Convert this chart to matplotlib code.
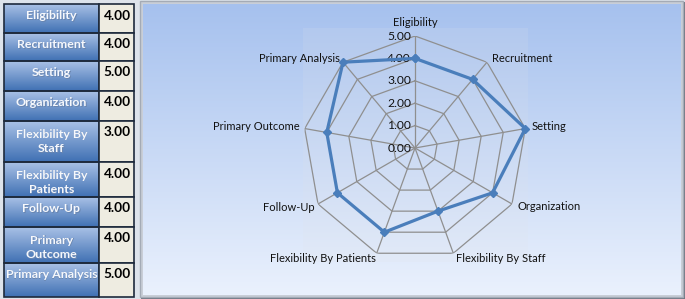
import numpy as np
import matplotlib
matplotlib.use('Agg')
import matplotlib.pyplot as plt
from matplotlib.patches import Rectangle
from matplotlib.colors import LinearSegmentedColormap

# ---------------- data ----------------
categories = ["Eligibility", "Recruitment", "Setting", "Organization",
              "Flexibility By Staff", "Flexibility By Patients", "Follow-Up",
              "Primary Outcome", "Primary Analysis"]
values = [4.00, 4.00, 5.00, 4.00, 3.00, 4.00, 4.00, 4.00, 5.00]
table_labels = ["Eligibility", "Recruitment", "Setting", "Organization",
                "Flexibility By\nStaff", "Flexibility By\nPatients", "Follow-Up",
                "Primary\nOutcome", "Primary Analysis"]
r_ticks = [0, 1, 2, 3, 4, 5]
r_tick_labels = ["0.00", "1.00", "2.00", "3.00", "4.00", "5.00"]

# ---------------- layout ----------------
W, H = 685, 299
fig = plt.figure(figsize=(W / 100, H / 100), dpi=100)
fig.patch.set_facecolor('#dde3eb')

bg = fig.add_axes([0, 0, 1, 1])
bg.axis('off')

def vgrad(ax, x0, x1, y0, y1, c_top, c_bot, z=0):
    cm = LinearSegmentedColormap.from_list('g', [c_top, c_bot])
    g = np.linspace(0, 1, 256).reshape(-1, 1)
    ax.imshow(g, extent=(x0, x1, y1, y0), aspect='auto', cmap=cm,
              interpolation='bilinear', zorder=z)

# ---------------- table ----------------
row_edges = [4, 33, 61, 91, 121, 162, 197, 227, 263, 297]
xl0, xl1, xv1 = 4, 99, 134
tfont = dict(family=['Lato', 'DejaVu Sans'], weight='bold')
for i, (lab, val) in enumerate(zip(table_labels, values)):
    y0, y1 = row_edges[i], row_edges[i + 1]
    vgrad(bg, xl0, xl1, y0, y1, '#a9c1e6', '#3f70b3', z=1)
    bg.add_patch(Rectangle((xl0, y0), xl1 - xl0, y1 - y0, fill=False,
                           ec='#1e2a3c', lw=1.2, zorder=3))
    bg.add_patch(Rectangle((xl1, y0), xv1 - xl1, y1 - y0, fc='#eeece1',
                           ec='#1e2a3c', lw=1.2, zorder=3))
    nl = lab.count('\n') + 1
    yc = y0 + 11.5 + (nl - 1) * 9
    bg.text((xl0 + xl1) / 2 + 0.6, yc + 0.6, lab, ha='center', va='center',
            color='#6a86b0', fontsize=8.9, linespacing=1.42, zorder=4, **tfont)
    bg.text((xl0 + xl1) / 2, yc, lab, ha='center', va='center',
            color='#f6f8fc', fontsize=8.9, linespacing=1.42, zorder=5, **tfont)
    bg.text((xl1 + xv1) / 2 + 0.5, y0 + 11.5, f"{val:.2f}", ha='center',
            va='center', color='black', fontsize=9.8, zorder=5, **tfont)

# ---------------- chart panel ----------------
px0, px1, py0, py1 = 143, 681, 4, 295
bg.add_patch(Rectangle((px0 - 2, py0 - 2), px1 - px0 + 6, py1 - py0 + 6,
                       fc='#6f7682', ec='none', zorder=0.5))
bg.add_patch(Rectangle((px0 - 3, py0 - 3), px1 - px0 + 5, py1 - py0 + 5,
                       fc='#c9ced7', ec='#a4abb6', lw=1, zorder=0.6))
vgrad(bg, px0, px1, py0, py1, '#a6c1ee', '#eaf1fd', z=0.8)
vgrad(bg, 303, 528, 28, 262, '#b3c9ee', '#e2eaf8', z=0.9)

bg.set_xlim(0, W)
bg.set_ylim(H, 0)

# ---------------- radar ----------------
cx, cy, R = 415, 148, 112
ax = fig.add_axes([(cx - R) / W, (H - cy - R) / H, 2 * R / W, 2 * R / H],
                  projection='polar')
ax.set_theta_zero_location('N')
ax.set_theta_direction(-1)
ax.set_ylim(0, 5)
ax.set_xticks([])
ax.set_yticks([])
ax.grid(False)
ax.spines['polar'].set_visible(False)
ax.patch.set_alpha(0)

n = len(categories)
ang = np.arange(n) * 2 * np.pi / n
ang_c = np.append(ang, ang[0])
gcol = '#8f8f8f'
for r in r_ticks[1:]:
    ax.plot(ang_c, [r] * (n + 1), color=gcol, lw=0.9, zorder=2)
for a in ang:
    ax.plot([a, a], [0, r_ticks[-1]], color=gcol, lw=0.9, zorder=2)

vals_c = values + [values[0]]
ax.plot(ang_c, vals_c, color='#4a7ebb', lw=2.3, marker='D', ms=4.5,
        mfc='#4a7ebb', mec='#4a7ebb', zorder=4, clip_on=False)

cfont = dict(family=['Lato', 'DejaVu Sans'], color='#111111')
for r, t in zip(r_ticks, r_tick_labels):
    ax.annotate(t, xy=(0, r), xytext=(-4, 0), textcoords='offset pixels',
                ha='right', va='center', fontsize=8.7, annotation_clip=False,
                **cfont)

offs = [(0, 13, 'center'), (5, 4, 'left'), (6, 2, 'left'), (6, -3, 'left'),
        (3, -5, 'left'), (-1, -5, 'right'), (-3, -3, 'right'),
        (-5, 2, 'right'), (-3, 4, 'right')]
for a, lab, (dx, dy, ha) in zip(ang, categories, offs):
    ax.annotate(lab, xy=(a, r_ticks[-1]), xytext=(dx, dy),
                textcoords='offset pixels', ha=ha, va='center', fontsize=8,
                annotation_clip=False, **cfont)

fig.savefig('out.png', dpi=100, facecolor=fig.get_facecolor())
